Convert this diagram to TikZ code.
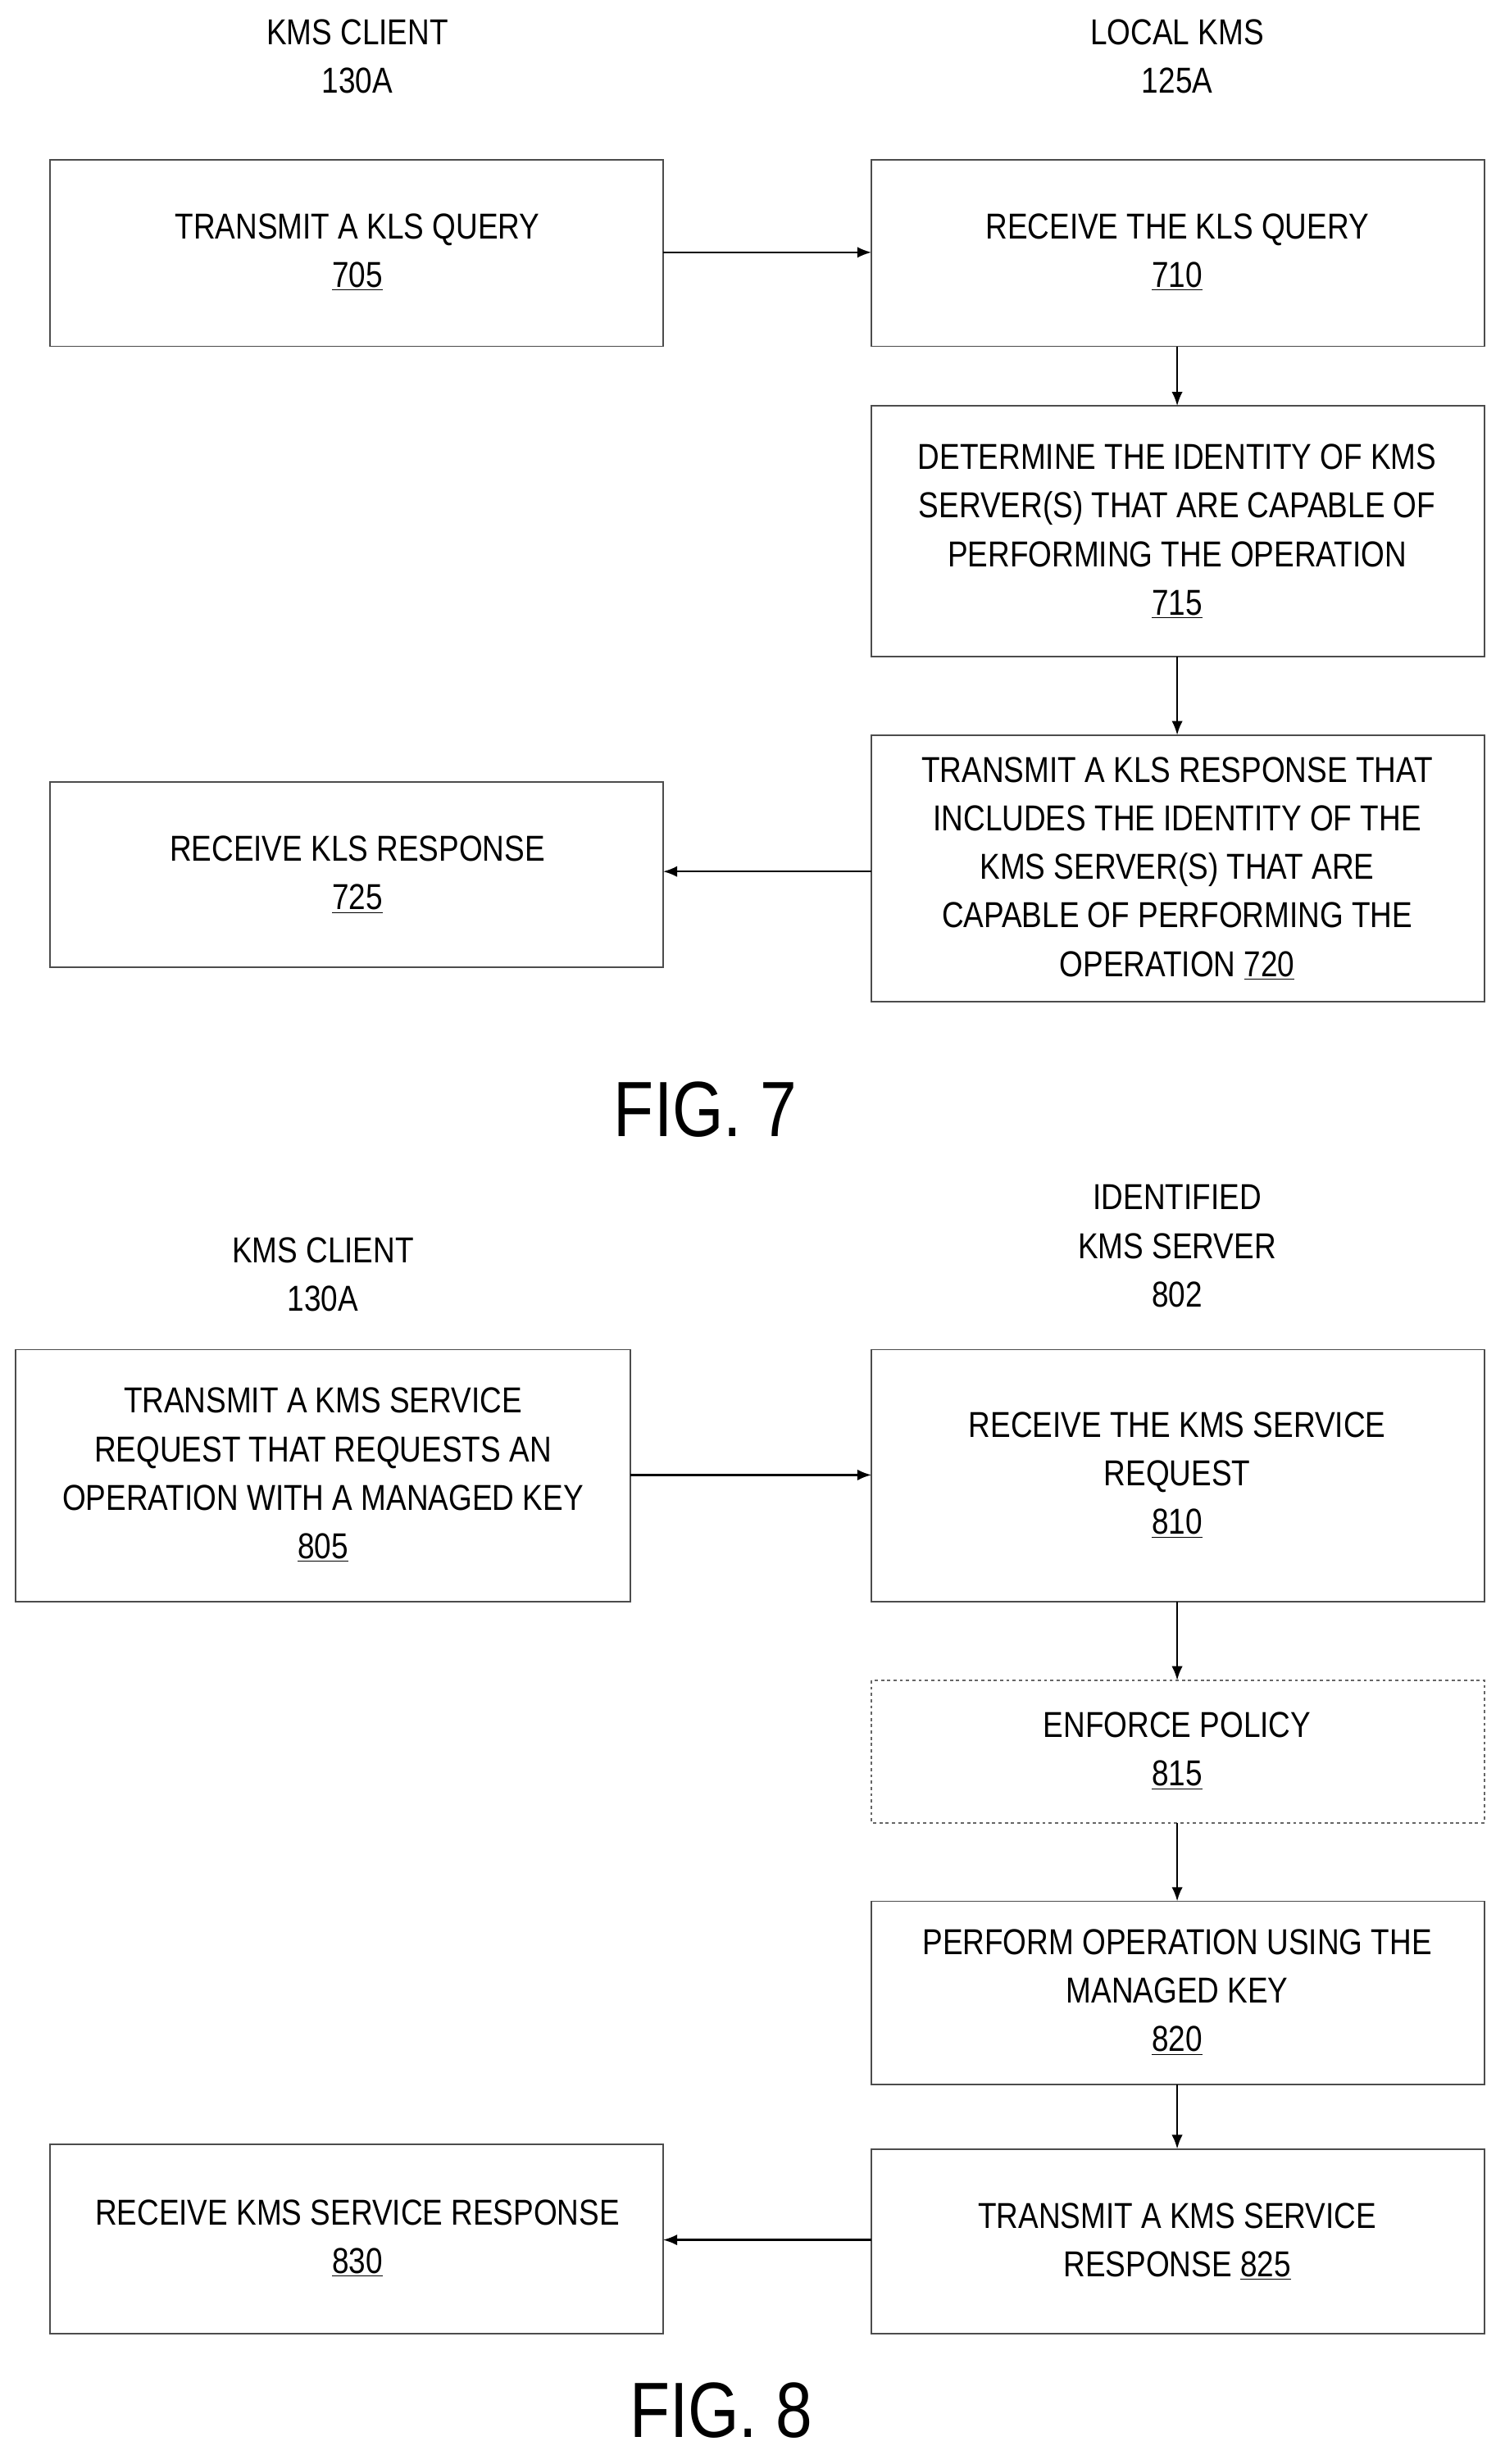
\documentclass[tikz,border=0pt]{standalone}
\usepackage{fontspec}
\setmainfont{Liberation Sans}[FakeStretch=0.84]
\usetikzlibrary{arrows.meta}
\begin{document}
\begin{tikzpicture}[x=1pt,y=-1pt,
  box/.style={draw=black!70,line width=0.9pt},
  dbox/.style={draw=black!60,line width=0.8pt,dash pattern=on 2pt off 2pt},
  txt/.style={align=center,font=\fontsize{23}{31}\selectfont,inner sep=0pt},
  big/.style={font=\fontsize{50}{56}\selectfont,inner sep=0pt},
  arr/.style={-{Latex[length=9pt,width=7pt]},line width=1.3pt}]
\useasboundingbox (0,0) rectangle (960,1572);
% FIG 7
\node[txt] (h1) at (228,36) {KMS CLIENT\\130A};
\node[txt] (h2) at (751,36) {LOCAL KMS\\125A};
\draw[box] (32,102) rectangle (423,221); \coordinate (b705) at (227.5,161.5);
\node[txt] (t705) at (228,161) {TRANSMIT A KLS QUERY\\\underline{705}};
\draw[box] (556,102) rectangle (947,221);
\node[txt] (t710) at (751,161) {RECEIVE THE KLS QUERY\\\underline{710}};
\draw[box] (556,259) rectangle (947,419);
\node[txt] (t715) at (751,339) {DETERMINE THE IDENTITY OF KMS\\SERVER(S) THAT ARE CAPABLE OF\\PERFORMING THE OPERATION\\\underline{715}};
\draw[box] (556,469) rectangle (947,639);
\node[txt] (t720) at (751,554) {TRANSMIT A KLS RESPONSE THAT\\INCLUDES THE IDENTITY OF THE\\KMS SERVER(S) THAT ARE\\CAPABLE OF PERFORMING THE\\OPERATION \underline{720}};
\draw[box] (32,499) rectangle (423,617);
\node[txt] (t725) at (228,558) {RECEIVE KLS RESPONSE\\\underline{725}};
\coordinate (a1) at (423,161); \coordinate (a2) at (556,161);
\draw[arr] (a1) -- (a2);
\coordinate (a3) at (751,221); \coordinate (a4) at (751,259);
\draw[arr] (a3) -- (a4);
\coordinate (a5) at (751,419); \coordinate (a6) at (751,469);
\draw[arr] (a5) -- (a6);
\coordinate (a7) at (556,556); \coordinate (a8) at (423,556);
\draw[arr] (a7) -- (a8);
\node[big] (f7) at (450,708) {FIG. 7};
% FIG 8
\node[txt] (h3) at (206,813) {KMS CLIENT\\130A};
\node[txt] (h4) at (751,795) {IDENTIFIED\\KMS SERVER\\802};
\draw[box] (10,861) rectangle (402,1022);
\node[txt] (t805) at (206,941) {TRANSMIT A KMS SERVICE\\REQUEST THAT REQUESTS AN\\OPERATION WITH A MANAGED KEY\\\underline{805}};
\draw[box] (556,861) rectangle (947,1022);
\node[txt] (t810) at (751,941) {RECEIVE THE KMS SERVICE\\REQUEST\\\underline{810}};
\draw[dbox] (556,1072) rectangle (947,1163);
\node[txt] (t815) at (751,1117) {ENFORCE POLICY\\\underline{815}};
\draw[box] (556,1213) rectangle (947,1330);
\node[txt] (t820) at (751,1271) {PERFORM OPERATION USING THE\\MANAGED KEY\\\underline{820}};
\draw[box] (556,1371) rectangle (947,1489);
\node[txt] (t825) at (751,1430) {TRANSMIT A KMS SERVICE\\RESPONSE \underline{825}};
\draw[box] (32,1368) rectangle (423,1489);
\node[txt] (t830) at (228,1428) {RECEIVE KMS SERVICE RESPONSE\\\underline{830}};
\coordinate (c1) at (402,941); \coordinate (c2) at (556,941);
\draw[arr] (c1) -- (c2);
\coordinate (c3) at (751,1022); \coordinate (c4) at (751,1072);
\draw[arr] (c3) -- (c4);
\coordinate (c5) at (751,1163); \coordinate (c6) at (751,1213);
\draw[arr] (c5) -- (c6);
\coordinate (c7) at (751,1330); \coordinate (c8) at (751,1371);
\draw[arr] (c7) -- (c8);
\coordinate (c9) at (556,1429); \coordinate (c10) at (423,1429);
\draw[arr] (c9) -- (c10);
\node[big] (f8) at (460,1538) {FIG. 8};
\end{tikzpicture}
\end{document}
